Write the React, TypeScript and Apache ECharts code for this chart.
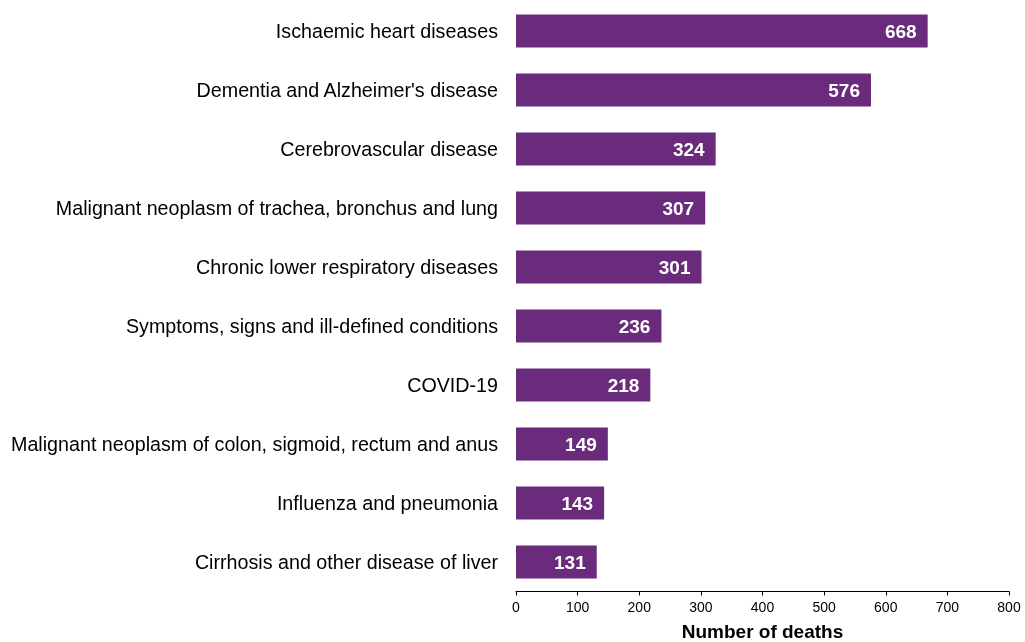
import React, { useEffect, useRef } from "react";
import * as echarts from "echarts";

const categories = [
  "Ischaemic heart diseases",
  "Dementia and Alzheimer's disease",
  "Cerebrovascular disease",
  "Malignant neoplasm of trachea, bronchus and lung",
  "Chronic lower respiratory diseases",
  "Symptoms, signs and ill-defined conditions",
  "COVID-19",
  "Malignant neoplasm of colon, sigmoid, rectum and anus",
  "Influenza and pneumonia",
  "Cirrhosis and other disease of liver",
];
const deaths = [668, 576, 324, 307, 301, 236, 218, 149, 143, 131];
const xTicks = [0, 100, 200, 300, 400, 500, 600, 700, 800];

export default function App() {
  const ref = useRef<HTMLDivElement>(null);
  useEffect(() => {
    if (!ref.current) return;
    const chart = echarts.init(ref.current, undefined, { renderer: "svg" });
    const font = "Arial, 'Liberation Sans', sans-serif";
    chart.setOption({
      animation: false,
      textStyle: { fontFamily: font },
      grid: { left: 516, right: 16, top: 1.5, bottom: 50.5, outerBoundsMode: "none", containLabel: false },
      xAxis: {
        type: "value",
        min: xTicks[0],
        max: xTicks[xTicks.length - 1],
        interval: 100,
        splitLine: { show: false },
        axisLine: { show: true, lineStyle: { color: "#000", width: 1 } },
        axisTick: { show: true, length: 4, lineStyle: { color: "#000" } },
        axisLabel: { color: "#000", fontSize: 14, margin: 8, fontFamily: font },
        name: "Number of deaths",
        nameLocation: "middle",
        nameGap: 30,
        nameTextStyle: { color: "#000", fontSize: 19, fontWeight: "bold", fontFamily: font },
      },
      yAxis: {
        type: "category",
        inverse: true,
        data: categories,
        axisLine: { show: false },
        axisTick: { show: false },
        axisLabel: { color: "#000", fontSize: 19.7, margin: 18, fontFamily: font },
      },
      series: [
        {
          type: "bar",
          data: deaths,
          barWidth: 33,
          itemStyle: { color: "#6B2B7D" },
          label: {
            show: true,
            position: "insideRight",
            distance: 11,
            color: "#fff",
            fontSize: 19,
            fontWeight: "bold",
            fontFamily: font,
          },
        },
      ],
    });
    return () => chart.dispose();
  }, []);
  return (
    <div
      ref={ref}
      style={{ position: "fixed", left: 0, top: 0, width: 1025, height: 642 }}
    />
  );
}
